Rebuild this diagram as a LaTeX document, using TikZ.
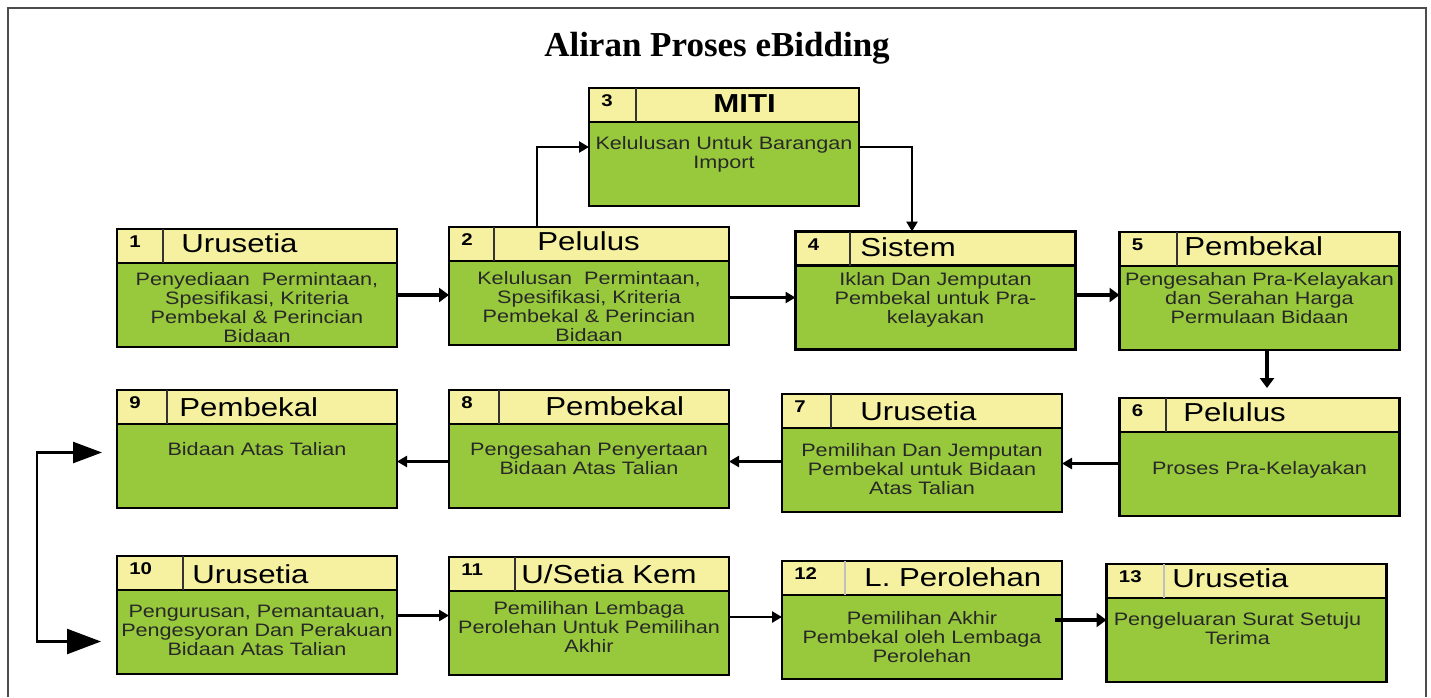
\documentclass[tikz,border=0pt]{standalone}
\usepackage{fontspec}
\setmainfont{Liberation Serif}
\newfontfamily\boxfont[FakeStretch=1.2]{Liberation Sans}
\usetikzlibrary{positioning, arrows.meta}
\definecolor{headyellow}{RGB}{245,241,160}
\definecolor{taskgreen}{RGB}{152,201,60}
\definecolor{textgray}{RGB}{40,40,40}
\tikzstyle{header} = [rectangle, draw=black, line width=1.2pt, fill=headyellow, minimum width=140pt, minimum height=17pt, inner sep=0pt, outer sep=0pt]
\tikzstyle{task} = [rectangle, draw=black, line width=1.2pt, fill=taskgreen, minimum width=140pt, minimum height=42pt, inner sep=0pt, outer sep=0pt]
\tikzstyle{desc} = [align=center, inner sep=0pt, text=textgray, font=\boxfont\fontsize{9}{9.5}\selectfont]
\tikzstyle{num} = [inner sep=0pt, font=\boxfont\bfseries\fontsize{8.5}{10}\selectfont]
\tikzstyle{role} = [anchor=west, inner sep=0pt, font=\boxfont\fontsize{13}{15}\selectfont]
\tikzstyle{divider} = [line width=1pt, black!80]
\tikzstyle{arrow} = [line width=1.25pt, -{Triangle[length=5pt,width=5.5pt]}]
\tikzstyle{thickarrow} = [line width=2pt, -{Triangle[length=5pt,width=7pt]}]
\tikzstyle{loop} = [line width=1.25pt, {Triangle[length=14.5pt,width=10.5pt]}-{Triangle[length=17pt,width=12.5pt]}]

\begin{document}
\begin{tikzpicture}[x=0.5pt, y=0.5pt]
\useasboundingbox (0,0) rectangle (1431,-697);
\draw [line width=0.75pt, black!70] (8,-697) -- (8,-8) -- (1426,-8) -- (1426,-697);
\node (title) [anchor=base, font=\bfseries\fontsize{17.5}{20}\selectfont] at (717,-56) {Aliran Proses eBidding};

% row 1
\node (h1) [header] at (257,-246) {};
\node (b1) [task, below=0pt of h1] {};
\node (h2) [header] at (589,-244) {};
\node (b2) [task, below=0pt of h2] {};
\node (h3) [header, minimum width=135pt] at (724,-105) {};
\node (b3) [task, minimum width=135pt, below=0pt of h3] {};
\node (h4) [header] at (935.5,-248.5) {};
\node (b4) [task, below=0pt of h4] {};
\node (h5) [header] at (1259.5,-249) {};
\node (b5) [task, below=0pt of h5] {};

% row 2
\node (h6) [header] at (1259.5,-415) {};
\node (b6) [task, below=0pt of h6] {};
\node (h7) [header] at (922,-411) {};
\node (b7) [task, below=0pt of h7] {};
\node (h8) [header] at (589,-407) {};
\node (b8) [task, below=0pt of h8] {};
\node (h9) [header] at (257,-407) {};
\node (b9) [task, below=0pt of h9] {};

% row 3
\node (h10) [header] at (257,-573) {};
\node (b10) [task, below=0pt of h10] {};
\node (h11) [header] at (589,-574) {};
\node (b11) [task, below=0pt of h11] {};
\node (h12) [header] at (922,-578) {};
\node (b12) [task, below=0pt of h12] {};
\node (h13) [header] at (1246.5,-581) {};
\node (b13) [task, below=0pt of h13] {};

% number cells
\draw [divider] (h1.north west) ++(46,0) -- ++(0,-34);
\draw [divider] (h2.north west) ++(45,0) -- ++(0,-34);
\draw [divider] (h3.north west) ++(47,0) -- ++(0,-34);
\draw [divider] (h4.north west) ++(54,0) -- ++(0,-34);
\draw [divider] (h5.north west) ++(57,0) -- ++(0,-34);
\draw [divider] (h6.north west) ++(46,0) -- ++(0,-34);
\draw [divider] (h7.north west) ++(49,0) -- ++(0,-34);
\draw [divider] (h8.north west) ++(50,0) -- ++(0,-34);
\draw [divider] (h9.north west) ++(50,0) -- ++(0,-34);
\draw [divider] (h10.north west) ++(66,0) -- ++(0,-34);
\draw [divider] (h11.north west) ++(66,0) -- ++(0,-34);
\draw [divider, black!25] (h12.north west) ++(63,0) -- ++(0,-34);
\draw [divider, black!25] (h13.north west) ++(57,0) -- ++(0,-34);

\node (n1) [num, right=6pt of h1.west, yshift=2pt] {1};
\node (n2) [num, right=6pt of h2.west, yshift=2pt] {2};
\node (n3) [num, right=6pt of h3.west, yshift=2pt] {3};
\node (n4) [num, right=6pt of h4.west, yshift=2pt] {4};
\node (n5) [num, right=6pt of h5.west, yshift=2pt] {5};
\node (n6) [num, right=6pt of h6.west, yshift=2pt] {6};
\node (n7) [num, right=6pt of h7.west, yshift=2pt] {7};
\node (n8) [num, right=6pt of h8.west, yshift=2pt] {8};
\node (n9) [num, right=6pt of h9.west, yshift=2pt] {9};
\node (n10) [num, right=6pt of h10.west, yshift=2pt] {10};
\node (n11) [num, right=6pt of h11.west, yshift=2pt] {11};
\node (n12) [num, right=6pt of h12.west, yshift=2pt] {12};
\node (n13) [num, right=6pt of h13.west, yshift=2pt] {13};

% roles
\node (r1) [role] at (181,-243) {Urusetia};
\node (r2) [role] at (537,-241) {Pelulus};
\node (r3) [role, font=\boxfont\bfseries\fontsize{13}{15}\selectfont] at (713,-104) {MITI};
\node (r4) [role] at (860,-247) {Sistem};
\node (r5) [role] at (1184,-246) {Pembekal};
\node (r6) [role] at (1183,-412) {Pelulus};
\node (r7) [role] at (860,-411) {Urusetia};
\node (r8) [role] at (545,-406) {Pembekal};
\node (r9) [role] at (179,-407) {Pembekal};
\node (r10) [role] at (192,-574) {Urusetia};
\node (r11) [role] at (521,-574) {U/Setia Kem};
\node (r12) [role] at (864,-577) {L. Perolehan};
\node (r13) [role] at (1172,-578) {Urusetia};

% descriptions
\node (d1) [desc, below=4.5pt of b1.north] {Penyediaan\ \ Permintaan,\\Spesifikasi, Kriteria\\Pembekal \& Perincian\\Bidaan};
\node (d2) [desc, below=5pt of b2.north] {Kelulusan\ \ Permintaan,\\Spesifikasi, Kriteria\\Pembekal \& Perincian\\Bidaan};
\node (d3) [desc, below=7pt of b3.north] {Kelulusan Untuk Barangan\\Import};
\node (d4) [desc, below=3.5pt of b4.north] {Iklan Dan Jemputan\\Pembekal untuk Pra-\\kelayakan};
\node (d5) [desc, below=3pt of b5.north] {Pengesahan Pra-Kelayakan\\dan Serahan Harga\\Permulaan Bidaan};
\node (d6) [desc, below=14.5pt of b6.north] {Proses Pra-Kelayakan};
\node (d7) [desc, below=7.5pt of b7.north] {Pemilihan Dan Jemputan\\Pembekal untuk Bidaan\\Atas Talian};
\node (d8) [desc, below=9pt of b8.north] {Pengesahan Penyertaan\\Bidaan Atas Talian};
\node (d9) [desc, below=9pt of b9.north] {Bidaan Atas Talian};
\node (d10) [desc, below=7.5pt of b10.north] {Pengurusan, Pemantauan,\\Pengesyoran Dan Perakuan\\Bidaan Atas Talian};
\node (d11) [desc, below=5pt of b11.north] {Pemilihan Lembaga\\Perolehan Untuk Pemilihan\\Akhir};
\node (d12) [desc, below=8pt of b12.north] {Pemilihan Akhir\\Pembekal oleh Lembaga\\Perolehan};
\node (d13) [desc, below=7pt of b13.north, xshift=-4.5pt] {Pengeluaran Surat Setuju\\Terima};

% flow
\draw [thickarrow] ([yshift=5pt]b1.east) -- ([yshift=5pt]b1.east -| b2.west);
\draw [arrow] ([xshift=-26pt]h2.north) |- ([yshift=8.5pt]b3.west);
\draw [arrow] ([yshift=8.5pt]b3.east) -| ([xshift=-11.75pt]h4.north);
\draw [arrow] ([yshift=2.75pt]b2.east) -- ([yshift=2.75pt]b2.east -| b4.west);
\draw [thickarrow] ([yshift=6.25pt]b4.east) -- ([yshift=6.25pt]b4.east -| b5.west);
\draw [thickarrow, shorten >=5pt] ([xshift=3.75pt]b5.south) -- ([xshift=3.75pt]b5.south |- h6.north);
\draw [arrow] ([yshift=5.25pt]b6.west) -- ([yshift=5.25pt]b6.west -| b7.east);
\draw [arrow] ([yshift=4.25pt]b7.west) -- ([yshift=4.25pt]b7.west -| b8.east);
\draw [arrow] ([yshift=2.25pt]b8.west) -- ([yshift=2.25pt]b8.west -| b9.east);
\coordinate (in9) at ([xshift=-7.5pt, yshift=6.75pt]b9.west);
\coordinate (in10) at ([xshift=-8pt, yshift=-4.75pt]b10.west);
\draw [loop] (in9) -- ++(-65,0) |- (in10);
\draw [arrow] ([yshift=8.25pt]b10.east) -- ([yshift=8.25pt]b10.east -| b11.west);
\draw [arrow] ([yshift=8pt]b11.east) -- ([yshift=8pt]b11.east -| b12.west);
\draw [thickarrow] ([xshift=-3.5pt, yshift=8.5pt]b12.east) -- ([yshift=8.5pt]b12.east -| b13.west);
\end{tikzpicture}
\end{document}
